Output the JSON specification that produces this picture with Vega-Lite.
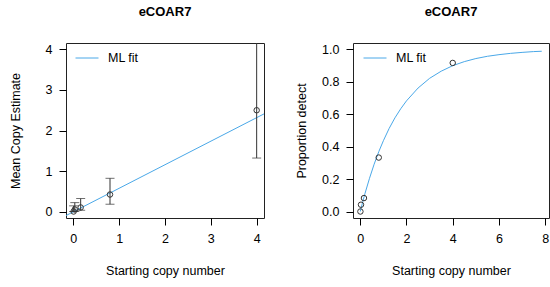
{
  "$schema": "https://vega.github.io/schema/vega-lite/v6.json",
  "padding": {"left": 8, "top": 5, "right": 1, "bottom": 5},
  "background": "white",
  "config": {
    "font": "Liberation Sans",
    "view": {"stroke": "#222222", "strokeWidth": 1},
    "axis": {
      "grid": false, "domain": false, "tickColor": "black", "tickSize": 7,
      "labelFont": "Liberation Sans", "labelFontSize": 12.5, "labelColor": "black", "labelOverlap": false,
      "titleFont": "Liberation Sans", "titleFontSize": 12.5, "titleFontWeight": "normal", "titleColor": "black",
      "labelPadding": 7
    },
    "title": {"font": "Liberation Sans", "fontSize": 13, "fontWeight": "bold", "offset": 24, "color": "black"},
    "legend": {"labelFont": "Liberation Sans", "labelFontSize": 12.5, "labelColor": "black"}
  },
  "spacing": 30,
  "datasets": {
    "means": [
      {"x": 0.0064, "y": 0.0, "lo": 0.0, "hi": 0.14},
      {"x": 0.032, "y": 0.05, "lo": 0.0, "hi": 0.22},
      {"x": 0.16, "y": 0.1, "lo": 0.03, "hi": 0.32},
      {"x": 0.8, "y": 0.42, "lo": 0.18, "hi": 0.82},
      {"x": 4, "y": 2.5, "lo": 1.32, "hi": 5.5}
    ],
    "linfit": [
      {"x": -0.16, "y": -0.1, "series": "ML fit"},
      {"x": 4.16, "y": 2.41, "series": "ML fit"}
    ],
    "props": [
      {"x": 0.0064, "p": 0.0},
      {"x": 0.032, "p": 0.042},
      {"x": 0.16, "p": 0.083},
      {"x": 0.8, "p": 0.333},
      {"x": 4, "p": 0.917}
    ],
    "curve": [
      {"x": 0, "p": 0, "series": "ML fit"},
      {"x": 0.1, "p": 0.056, "series": "ML fit"},
      {"x": 0.2, "p": 0.109, "series": "ML fit"},
      {"x": 0.4, "p": 0.205, "series": "ML fit"},
      {"x": 0.6, "p": 0.292, "series": "ML fit"},
      {"x": 0.8, "p": 0.369, "series": "ML fit"},
      {"x": 1.0, "p": 0.437, "series": "ML fit"},
      {"x": 1.25, "p": 0.513, "series": "ML fit"},
      {"x": 1.5, "p": 0.578, "series": "ML fit"},
      {"x": 1.75, "p": 0.634, "series": "ML fit"},
      {"x": 2, "p": 0.683, "series": "ML fit"},
      {"x": 2.5, "p": 0.762, "series": "ML fit"},
      {"x": 3, "p": 0.822, "series": "ML fit"},
      {"x": 3.5, "p": 0.866, "series": "ML fit"},
      {"x": 4, "p": 0.9, "series": "ML fit"},
      {"x": 4.5, "p": 0.925, "series": "ML fit"},
      {"x": 5, "p": 0.944, "series": "ML fit"},
      {"x": 5.5, "p": 0.958, "series": "ML fit"},
      {"x": 6, "p": 0.968, "series": "ML fit"},
      {"x": 6.5, "p": 0.976, "series": "ML fit"},
      {"x": 7, "p": 0.982, "series": "ML fit"},
      {"x": 7.5, "p": 0.987, "series": "ML fit"},
      {"x": 7.85, "p": 0.989, "series": "ML fit"}
    ]
  },
  "resolve": {"scale": {"color": "independent"}, "legend": {"color": "independent"}},
  "hconcat": [
    {
      "width": 198,
      "height": 175,
      "title": "eCOAR7",
      "layer": [
        {
          "data": {"name": "linfit"},
          "mark": {"type": "line", "clip": true, "strokeWidth": 1},
          "encoding": {
            "x": {"field": "x", "type": "quantitative", "scale": {"domain": [-0.16, 4.16], "nice": false, "zero": false},
              "axis": {"values": [0, 1, 2, 3, 4], "tickCount": 10, "format": "d", "labelOverlap": false, "title": "Starting copy number", "titlePadding": 20}},
            "y": {"field": "y", "type": "quantitative", "scale": {"domain": [-0.16, 4.16], "nice": false, "zero": false},
              "axis": {"values": [0, 1, 2, 3, 4], "tickCount": 10, "format": "d", "labelOverlap": false, "title": "Mean Copy Estimate", "titlePadding": 23}},
            "color": {"field": "series", "type": "nominal", "scale": {"domain": ["ML fit"], "range": ["#4aa8e8"]},
              "legend": {"title": null, "orient": "none", "legendX": 9, "legendY": 3, "symbolType": "stroke", "symbolSize": 529, "symbolStrokeWidth": 1, "labelOffset": 9}}
          }
        },
        {
          "data": {"name": "means"},
          "mark": {"type": "rule", "clip": true, "color": "#333333", "strokeWidth": 1},
          "encoding": {
            "x": {"field": "x", "type": "quantitative"},
            "y": {"field": "lo", "type": "quantitative"},
            "y2": {"field": "hi"}
          }
        },
        {
          "data": {"name": "means"},
          "mark": {"type": "tick", "clip": true, "orient": "horizontal", "color": "#333333", "thickness": 1, "size": 9},
          "encoding": {
            "x": {"field": "x", "type": "quantitative"},
            "y": {"field": "lo", "type": "quantitative"}
          }
        },
        {
          "data": {"name": "means"},
          "mark": {"type": "tick", "clip": true, "orient": "horizontal", "color": "#333333", "thickness": 1, "size": 9},
          "encoding": {
            "x": {"field": "x", "type": "quantitative"},
            "y": {"field": "hi", "type": "quantitative"}
          }
        },
        {
          "data": {"name": "means"},
          "mark": {"type": "point", "shape": "circle", "filled": false, "size": 30, "color": "#333333", "strokeWidth": 1, "opacity": 1},
          "encoding": {
            "x": {"field": "x", "type": "quantitative"},
            "y": {"field": "y", "type": "quantitative"}
          }
        }
      ]
    },
    {
      "width": 196,
      "height": 175,
      "title": "eCOAR7",
      "layer": [
        {
          "data": {"name": "curve"},
          "mark": {"type": "line", "clip": true, "strokeWidth": 1},
          "encoding": {
            "x": {"field": "x", "type": "quantitative", "scale": {"domain": [-0.314, 8.164], "nice": false, "zero": false},
              "axis": {"values": [0, 2, 4, 6, 8], "tickCount": 10, "format": "d", "labelOverlap": false, "title": "Starting copy number", "titlePadding": 20}},
            "y": {"field": "p", "type": "quantitative", "scale": {"domain": [-0.04, 1.04], "nice": false, "zero": false},
              "axis": {"values": [0, 0.2, 0.4, 0.6, 0.8, 1.0], "tickCount": 12, "labelOverlap": false, "format": ".1f", "title": "Proportion detect", "titlePadding": 13}},
            "color": {"field": "series", "type": "nominal", "scale": {"domain": ["ML fit"], "range": ["#4aa8e8"]},
              "legend": {"title": null, "orient": "none", "legendX": 10, "legendY": 3, "symbolType": "stroke", "symbolSize": 529, "symbolStrokeWidth": 1, "labelOffset": 9}}
          }
        },
        {
          "data": {"name": "props"},
          "mark": {"type": "point", "shape": "circle", "filled": false, "size": 30, "color": "#333333", "strokeWidth": 1, "opacity": 1},
          "encoding": {
            "x": {"field": "x", "type": "quantitative"},
            "y": {"field": "p", "type": "quantitative"}
          }
        }
      ]
    }
  ]
}
